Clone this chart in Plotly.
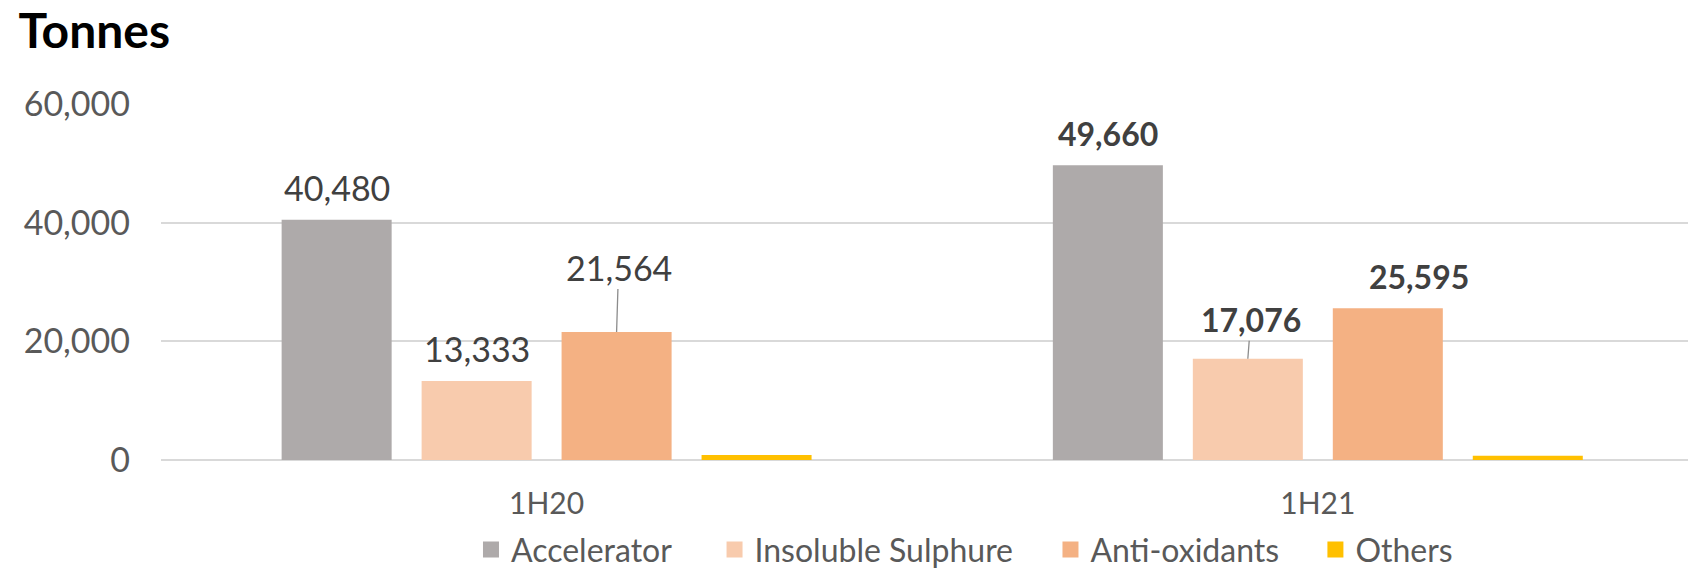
import plotly.graph_objects as go

periods = ["1H20", "1H21"]
products = ["Accelerator", "Insoluble Sulphure", "Anti-oxidants", "Others"]
accelerator = [40480, 49660]
insoluble_sulphure = [13333, 17076]
anti_oxidants = [21564, 25595]
others = [850, 700]

series = [accelerator, insoluble_sulphure, anti_oxidants, others]
colors = ["#AEAAAA", "#F8CBAD", "#F4B183", "#FFC000"]
labelled = [0, 1, 2]  # Others has no data label

# label tweaks (period, product) -> (xshift, leader length px); None = plain label above bar
label_tweaks = {(0, 2): (2, 65), (1, 1): (3, 39), (1, 2): (31, None)}
# legend entry left edges, in paper fraction
legend_x = [0.203, 0.3625, 0.5825, 0.756]

BARGAP = 0.274
GROUPGAP = 0.214
FONT = "Lato"

fig = go.Figure()
for name, vals, col in zip(products, series, colors):
    fig.add_trace(go.Bar(x=periods, y=vals, name=name, showlegend=False,
                         marker=dict(color=col, line=dict(width=0))))

# legend-only entries, one legend each so the spacing matches
for k, (name, col) in enumerate(zip(products, colors)):
    lg = "legend" if k == 0 else f"legend{k + 1}"
    fig.add_trace(go.Scatter(x=[None], y=[None], mode="markers", name=name, legend=lg,
                             marker=dict(symbol="square", size=17, color=col)))
    fig.update_layout({lg: dict(orientation="h", x=legend_x[k], xanchor="left", y=-0.252,
                                yanchor="middle", itemsizing="trace", bgcolor="rgba(0,0,0,0)",
                                font=dict(family=FONT, size=32, color="#595959"))})

slot = (1 - BARGAP) / len(products)
for i, period in enumerate(periods):
    for j in labelled:
        v = series[j][i]
        if i == 1:
            txt, fsize = f"<b>{v:,}</b>", 32
        else:
            txt, fsize = f"{v:,}", 34
        xpos = i + (j - (len(products) - 1) / 2) * slot
        xs, lead = label_tweaks.get((i, j), (0, None))
        if lead is None:
            fig.add_annotation(x=xpos, y=v, text=txt, showarrow=False, yanchor="bottom",
                               xshift=xs, yshift=10,
                               font=dict(family=FONT, size=fsize, color="#404040"))
        else:
            fig.add_annotation(x=xpos, y=v, text=txt, showarrow=True, arrowhead=0,
                               arrowwidth=1.3, arrowcolor="#8c8c8c", ax=xs, ay=-lead,
                               font=dict(family=FONT, size=fsize, color="#404040"))

fig.update_layout(
    barmode="group", bargap=BARGAP, bargroupgap=GROUPGAP,
    width=1688, height=572,
    paper_bgcolor="white", plot_bgcolor="white",
    margin=dict(l=161, r=0, t=104, b=112, autoexpand=False),
    font=dict(family=FONT, size=30, color="#595959"),
    title=dict(text="<b>Tonnes</b>", x=0.011, xanchor="left", xref="container",
               y=0.945, yanchor="middle", yref="container",
               font=dict(family=FONT, size=48, weight=900, color="black")),
)
fig.update_xaxes(range=[-0.5, 1.48], showgrid=False, showline=False, ticks="",
                 ticklabelstandoff=23, tickfont=dict(size=30, color="#595959"))
fig.update_yaxes(range=[0, 60000], dtick=20000, tickformat=",", showgrid=True,
                 gridcolor="#d9d9d9", gridwidth=2, zeroline=True, zerolinecolor="#d9d9d9",
                 zerolinewidth=2, showline=False, ticks="", ticklabelstandoff=30,
                 tickfont=dict(size=34, color="#595959"))

# page body has an 8px default margin; drop it so the chart sits at the corner
fig.write_html("out.html", config={"displayModeBar": False},
               post_script="document.body.style.margin='0px';")
